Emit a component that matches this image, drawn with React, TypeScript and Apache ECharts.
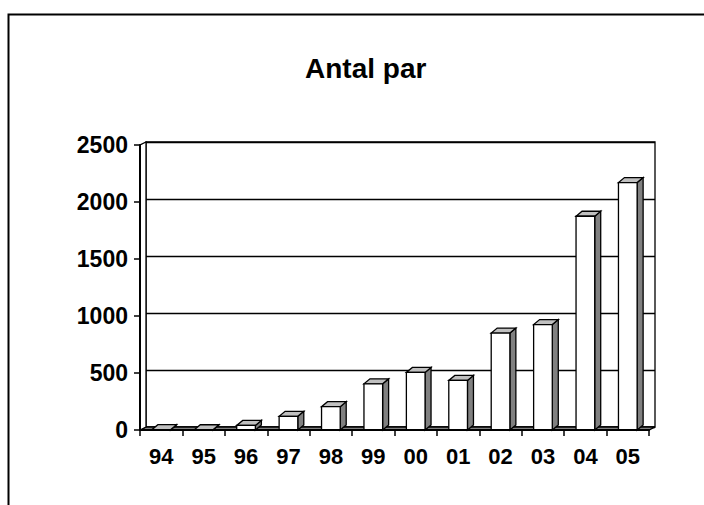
import React, { useEffect, useRef } from "react";
import * as echarts from "echarts";

const categories = ["94", "95", "96", "97", "98", "99", "00", "01", "02", "03", "04", "05"];
const antalPar = [3, 2, 40, 120, 205, 405, 505, 435, 850, 925, 1875, 2170];
const yTicks = { min: 0, max: 2500, interval: 500 };
const chartTitle = "Antal par";

const FONT = "'Liberation Sans', Arial, sans-serif";
const WALL_DX = 6;
const WALL_DY = -3;
const BAR_DX = 6;
const BAR_DY = -5;

export default function App() {
  const ref = useRef<HTMLDivElement>(null);
  useEffect(() => {
    if (!ref.current) return;
    const chart = echarts.init(ref.current, null, { renderer: "svg" });
    const option: any = {
      animation: false,
      backgroundColor: "#ffffff",
      title: {
        text: chartTitle,
        left: 300,
        top: 49,
        textStyle: { fontFamily: FONT, fontWeight: "bold", fontSize: 28, color: "#000" },
      },
      graphic: [
        {
          type: "rect",
          shape: { x: 8.5, y: 14.5, width: 760, height: 560 },
          style: { fill: "none", stroke: "#000", lineWidth: 2 },
          silent: true,
        },
      ],
      grid: [
        { left: 140, top: 145, width: 509, height: 285 },
        {
          left: 140 + WALL_DX,
          top: 145 + WALL_DY,
          width: 509,
          height: 285,
          show: true,
          borderColor: "#000",
          borderWidth: 1.3,
          backgroundColor: "transparent",
        },
      ],
      xAxis: [
        {
          type: "category",
          gridIndex: 0,
          data: categories,
          boundaryGap: true,
          axisLine: { lineStyle: { color: "#000", width: 2 } },
          axisTick: { show: true, length: 6, lineStyle: { color: "#000", width: 1.5 } },
          axisLabel: { margin: 15, fontFamily: FONT, fontWeight: "bold", fontSize: 22, color: "#000" },
          splitLine: { show: false },
          z: 5,
        },
        { type: "category", gridIndex: 1, data: categories, show: false },
      ],
      yAxis: [
        {
          type: "value",
          gridIndex: 0,
          min: yTicks.min,
          max: yTicks.max,
          interval: yTicks.interval,
          axisLine: { show: true, lineStyle: { color: "#000", width: 2 } },
          axisTick: { show: true, length: 6, lineStyle: { color: "#000", width: 1.5 } },
          axisLabel: {
            margin: 12,
            fontFamily: FONT,
            fontWeight: "bold",
            fontSize: 23,
            color: "#000",
            formatter: (v: number) => String(v),
          },
          splitLine: { show: false },
          z: 5,
        },
        {
          type: "value",
          gridIndex: 1,
          min: yTicks.min,
          max: yTicks.max,
          interval: yTicks.interval,
          axisLine: { show: false },
          axisTick: { show: false },
          axisLabel: { show: false },
          splitLine: { show: true, lineStyle: { color: "#000", width: 1.3 } },
        },
      ],
      series: [
        {
          type: "custom",
          name: "walls",
          xAxisIndex: 0,
          yAxisIndex: 0,
          z: 1,
          silent: true,
          data: [[0, 0]],
          renderItem: (params: any, api: any) => {
            const cs = params.coordSys;
            const x0 = cs.x;
            const x1 = cs.x + cs.width;
            const yb = cs.y + cs.height;
            const yt = cs.y;
            return {
              type: "group",
              children: [
                {
                  type: "polygon",
                  shape: {
                    points: [
                      [x0, yb],
                      [x1, yb],
                      [x1 + WALL_DX, yb + WALL_DY],
                      [x0 + WALL_DX, yb + WALL_DY],
                    ],
                  },
                  style: { fill: "#808080", stroke: "#000", lineWidth: 1.3 },
                },
                {
                  type: "polygon",
                  shape: {
                    points: [
                      [x0, yb],
                      [x0, yt],
                      [x0 + WALL_DX, yt + WALL_DY],
                      [x0 + WALL_DX, yb + WALL_DY],
                    ],
                  },
                  style: { fill: "#ffffff", stroke: "#000", lineWidth: 1.3 },
                },
              ],
            };
          },
        },
        {
          type: "custom",
          name: chartTitle,
          xAxisIndex: 0,
          yAxisIndex: 0,
          z: 3,
          data: antalPar.map((v, i) => [i, v]),
          renderItem: (params: any, api: any) => {
            const idx = api.value(0);
            const v = api.value(1);
            const top = api.coord([idx, v]);
            const base = api.coord([idx, 0]);
            const w = api.size([1, 0])[0] * 0.44;
            const xl = top[0] - w / 2;
            const xr = top[0] + w / 2;
            const yt = top[1];
            const yb = base[1];
            const stroke = { stroke: "#000", lineWidth: 1.3, lineJoin: "miter" };
            return {
              type: "group",
              children: [
                {
                  type: "polygon",
                  shape: {
                    points: [
                      [xr, yb],
                      [xr, yt],
                      [xr + BAR_DX, yt + BAR_DY],
                      [xr + BAR_DX, yb + BAR_DY],
                    ],
                  },
                  style: { fill: "#808080", ...stroke },
                },
                {
                  type: "polygon",
                  shape: {
                    points: [
                      [xl, yt],
                      [xr, yt],
                      [xr + BAR_DX, yt + BAR_DY],
                      [xl + BAR_DX, yt + BAR_DY],
                    ],
                  },
                  style: { fill: "#c0c0c0", ...stroke },
                },
                {
                  type: "rect",
                  shape: { x: xl, y: yt, width: w, height: yb - yt },
                  style: { fill: "#ffffff", ...stroke },
                },
              ],
            };
          },
        },
      ],
    };
    chart.setOption(option);
    return () => chart.dispose();
  }, []);
  return (
    <div
      ref={ref}
      style={{ position: "fixed", left: 0, top: 0, width: 704, height: 505, background: "#fff" }}
    />
  );
}
